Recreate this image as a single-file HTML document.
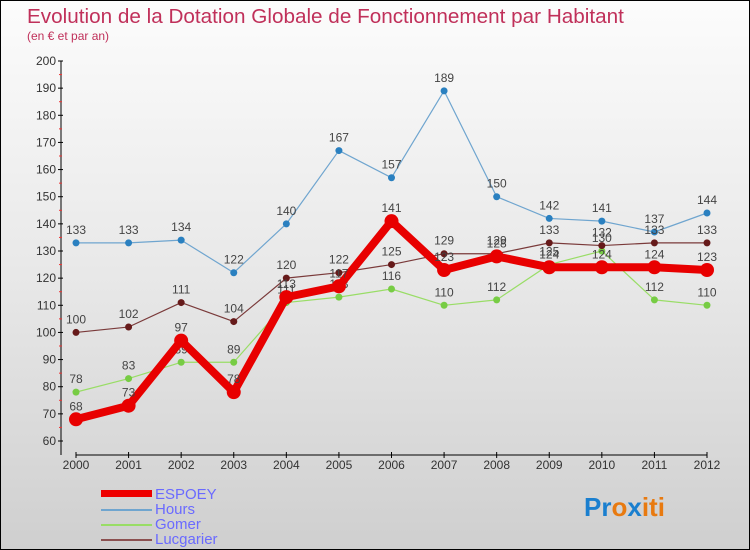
<!DOCTYPE html>
<html><head><meta charset="utf-8"><style>
body{margin:0}
#c{width:750px;height:550px;position:relative;overflow:hidden;box-sizing:border-box;border:1px solid #000;background:linear-gradient(#fcfcfc,#e8e8e8 50%,#cfcfcf);font-family:"Liberation Sans",sans-serif}
svg{position:absolute;left:0;top:0}
</style></head><body>
<div id="c">
<svg id="s" width="750" height="550">
<text x="26" y="22" font-size="20.7" fill="#c0305a">Evolution de la Dotation Globale de Fonctionnement par Habitant</text>
<text x="26" y="39" font-size="12" fill="#c0305a">(en € et par an)</text>
<text x="154" y="498" font-size="15" fill="#6a6aff">ESPOEY</text>
<text x="154" y="513" font-size="15" fill="#6a6aff">Hours</text>
<text x="154" y="528" font-size="15" fill="#6a6aff">Gomer</text>
<text x="154" y="543" font-size="15" fill="#6a6aff">Lucgarier</text>
<rect x="100" y="489" width="51" height="7" fill="#e00"/>
<rect x="100" y="508" width="51" height="2" fill="#6fa5cf"/>
<rect x="100" y="523" width="51" height="2" fill="#99dd66"/>
<rect x="100" y="538" width="51" height="2" fill="#8b5050"/>
<text x="583" y="515" font-size="26" font-weight="bold"><tspan fill="#1a7fcf">Pr</tspan><tspan fill="#e87a10">o</tspan><tspan fill="#1a7fcf">x</tspan><tspan fill="#e87a10">iti</tspan></text>
</svg>
</div>
<script>
const years=[2000,2001,2002,2003,2004,2005,2006,2007,2008,2009,2010,2011,2012];
const espoey=[68,73,97,78,113,117,141,123,128,124,124,124,123];
const hours=[133,133,134,122,140,167,157,189,150,142,141,137,144];
const gomer=[78,83,89,89,111,113,116,110,112,125,130,112,110];
const lucgarier=[100,102,111,104,120,122,125,129,129,133,132,133,133];
const yTicks=[60,70,80,90,100,110,120,130,140,150,160,170,180,190,200];
const NS='http://www.w3.org/2000/svg';
const svg=document.getElementById('s');
const X=i=>75+i*(706-75)/(years.length-1);
const Y=v=>440-(v-60)*(380/140);
function el(t,a,p){const e=document.createElementNS(NS,t);for(const k in a)e.setAttribute(k,a[k]);(p||svg).appendChild(e);return e;}
let ax=el('line',{x1:60,y1:60,x2:60,y2:454,stroke:'#000','stroke-width':1});

let xa=el('line',{x1:75,y1:454,x2:706,y2:454,stroke:'#000','stroke-width':1});

yTicks.forEach((v,i)=>{
  el('line',{x1:57,y1:Y(v),x2:62,y2:Y(v),stroke:'#000'});
  if(i<yTicks.length-1)el('line',{x1:58,y1:Y(v+5),x2:61,y2:Y(v+5),stroke:'#e33'});
  const t=el('text',{x:55,y:Y(v)+4,'font-size':12,fill:'#333','text-anchor':'end'});
  
  t.textContent=v;
});
years.forEach((y,i)=>{
  el('line',{x1:X(i),y1:451,x2:X(i),y2:457,stroke:'#000'});
  const t=el('text',{x:X(i),y:468,'font-size':12,fill:'#333','text-anchor':'middle'});
  
  t.textContent=y;
});
function series(d,name,color,w,r,dot){
  const g=el('g',{});
  
  const p=el('polyline',{points:d.map((v,i)=>X(i)+','+Y(v)).join(' '),fill:'none',stroke:color,'stroke-width':w,'stroke-linejoin':'round'},g);
  
  d.forEach((v,i)=>{
    const c=el('circle',{cx:X(i),cy:Y(v),r:r,fill:dot},g);
    
    const t=el('text',{x:X(i),y:Y(v)-9,'font-size':12,fill:'#444','text-anchor':'middle'},g);
    
    t.textContent=v;
  });
}
series(hours,'hours','#6fa5cf',1.2,3.5,'#2a80c0');
series(gomer,'gomer','#99dd66',1.2,3.5,'#77cc44');
series(lucgarier,'lucgarier','#7a3a3a',1.2,3.5,'#661a1a');
series(espoey,'espoey','#e80000',8,7,'#e80000');
</script>
</body></html>
